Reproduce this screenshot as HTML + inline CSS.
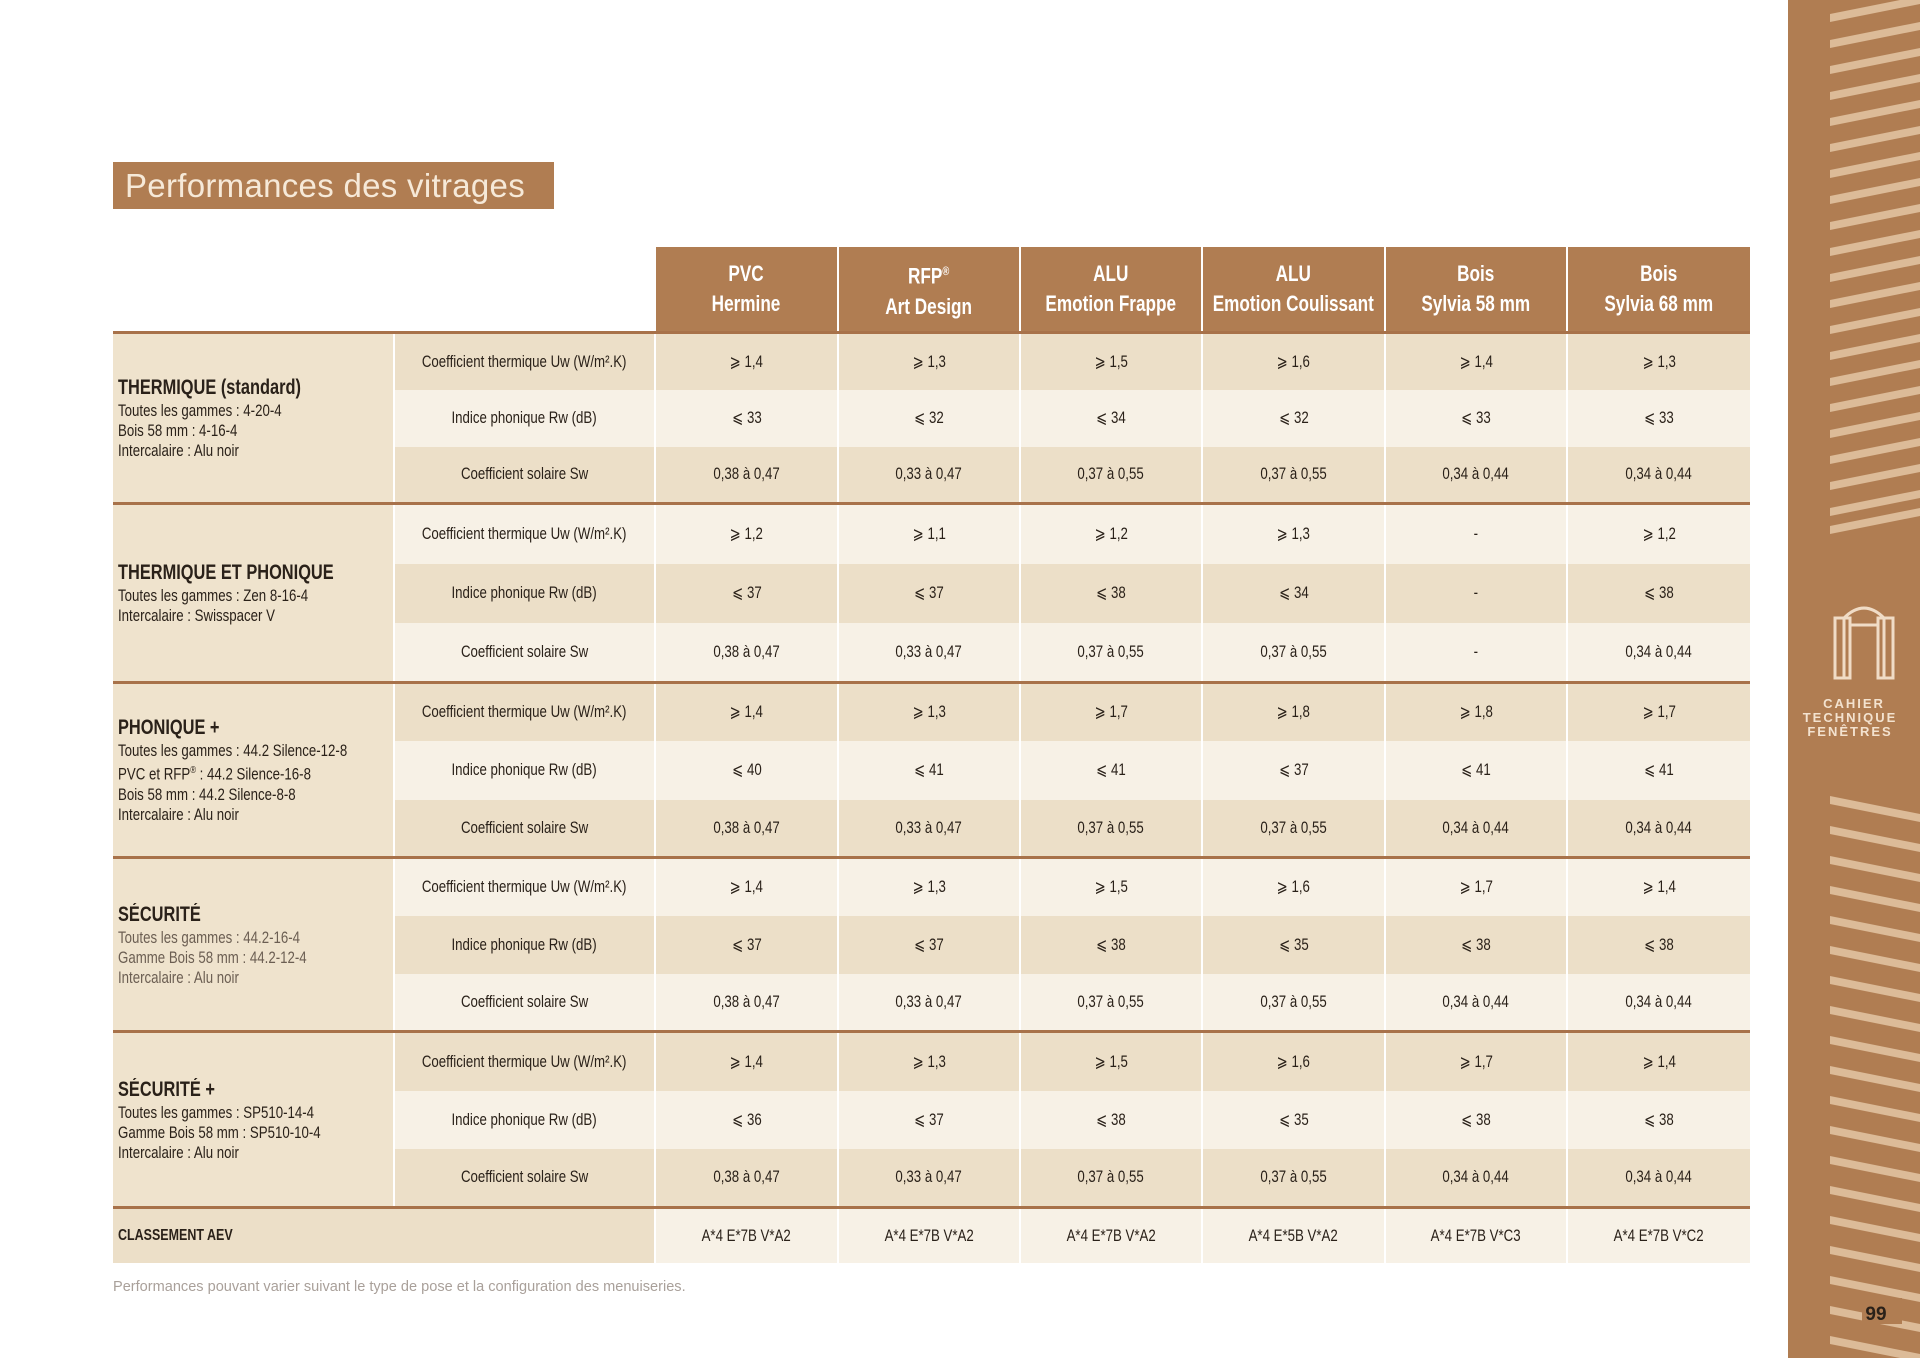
<!DOCTYPE html>
<html><head><meta charset="utf-8"><style>
body{margin:0;width:1920px;height:1358px;background:#fff;position:relative;overflow:hidden;font-family:"Liberation Sans",sans-serif;color:#2a2119}
.title{position:absolute;left:113px;top:162px;width:441px;height:47px;background:#b07d52;color:#f6e9d8;font-family:"Liberation Sans",sans-serif;font-size:33px;line-height:47px;padding-left:12px;box-sizing:border-box;font-weight:300;letter-spacing:0.3px}
table{position:absolute;left:113px;top:247px;width:1637px;border-collapse:collapse;table-layout:fixed}
td{padding:0;text-align:center;font-size:17px;border-left:2px solid #fff;overflow:hidden}
th{background:#b07d52;color:#fff;font-size:22px;font-weight:bold;border-left:2px solid #fff;line-height:30px;height:84px;padding:0;overflow:hidden}
th.e{background:transparent;border:none}
td.g{text-align:left;vertical-align:middle;background:#efe3cd;padding-left:5px;font-size:17px;line-height:20px;border-left:none}
td.g b{font-size:21px;display:block;line-height:26px}
tr.d td{background:#ecdfc8}
tr.l td{background:#f7f1e6}
tr.d td.g,tr.l td.g{background:#efe3cd}
tr.s td{border-top:3px solid #a8724a}
td.lab{font-size:17px}
.c{display:inline-block;transform:scaleX(.78);white-space:nowrap;margin:0 -60px}
.g .c{width:340px;margin:0 -80px 0 0;transform-origin:left center;white-space:normal}
.foot{position:absolute;left:113px;top:1278px;font-size:15px;color:#a9a09a;transform:scaleX(.97);transform-origin:left;white-space:nowrap}
.side{position:absolute;left:1788px;top:0;width:132px;height:1358px;background:#b07d52}
</style></head><body>
<div class="title">Performances des vitrages</div>
<table>
<colgroup><col style="width:281px"><col style="width:261px"><col style="width:183px"><col style="width:182px"><col style="width:182px"><col style="width:183px"><col style="width:182px"><col style="width:183px"></colgroup>
<tr><th class="e"></th><th class="e"></th><th>PVC<br>Hermine</th><th>RFP<sup style="font-size:12px">®</sup><br>Art Design</th><th>ALU<br>Emotion Frappe</th><th>ALU<br>Emotion Coulissant</th><th>Bois<br>Sylvia 58 mm</th><th>Bois<br>Sylvia 68 mm</th></tr>

<tr class="d s" style="height:57px"><td class="g" rowspan="3"><b>THERMIQUE (standard)</b>Toutes les gammes : 4-20-4<br>Bois 58 mm : 4-16-4<br>Intercalaire : Alu noir</td><td class="lab">Coefficient thermique Uw (W/m².K)</td><td>⩾ 1,4</td><td>⩾ 1,3</td><td>⩾ 1,5</td><td>⩾ 1,6</td><td>⩾ 1,4</td><td>⩾ 1,3</td></tr>
<tr class="l" style="height:57px"><td class="lab">Indice phonique Rw (dB)</td><td>⩽ 33</td><td>⩽ 32</td><td>⩽ 34</td><td>⩽ 32</td><td>⩽ 33</td><td>⩽ 33</td></tr>
<tr class="d" style="height:57px"><td class="lab">Coefficient solaire Sw</td><td>0,38 à 0,47</td><td>0,33 à 0,47</td><td>0,37 à 0,55</td><td>0,37 à 0,55</td><td>0,34 à 0,44</td><td>0,34 à 0,44</td></tr>

<tr class="l s" style="height:60px"><td class="g" rowspan="3"><b>THERMIQUE ET PHONIQUE</b>Toutes les gammes : Zen 8-16-4<br>Intercalaire : Swisspacer V</td><td class="lab">Coefficient thermique Uw (W/m².K)</td><td>⩾ 1,2</td><td>⩾ 1,1</td><td>⩾ 1,2</td><td>⩾ 1,3</td><td>-</td><td>⩾ 1,2</td></tr>
<tr class="d" style="height:59px"><td class="lab">Indice phonique Rw (dB)</td><td>⩽ 37</td><td>⩽ 37</td><td>⩽ 38</td><td>⩽ 34</td><td>-</td><td>⩽ 38</td></tr>
<tr class="l" style="height:60px"><td class="lab">Coefficient solaire Sw</td><td>0,38 à 0,47</td><td>0,33 à 0,47</td><td>0,37 à 0,55</td><td>0,37 à 0,55</td><td>-</td><td>0,34 à 0,44</td></tr>

<tr class="d s" style="height:58px"><td class="g" rowspan="3"><b>PHONIQUE +</b>Toutes les gammes : 44.2 Silence-12-8<br>PVC et RFP<sup style="font-size:10px">®</sup> : 44.2 Silence-16-8<br>Bois 58 mm : 44.2 Silence-8-8<br>Intercalaire : Alu noir</td><td class="lab">Coefficient thermique Uw (W/m².K)</td><td>⩾ 1,4</td><td>⩾ 1,3</td><td>⩾ 1,7</td><td>⩾ 1,8</td><td>⩾ 1,8</td><td>⩾ 1,7</td></tr>
<tr class="l" style="height:59px"><td class="lab">Indice phonique Rw (dB)</td><td>⩽ 40</td><td>⩽ 41</td><td>⩽ 41</td><td>⩽ 37</td><td>⩽ 41</td><td>⩽ 41</td></tr>
<tr class="d" style="height:58px"><td class="lab">Coefficient solaire Sw</td><td>0,38 à 0,47</td><td>0,33 à 0,47</td><td>0,37 à 0,55</td><td>0,37 à 0,55</td><td>0,34 à 0,44</td><td>0,34 à 0,44</td></tr>

<tr class="l s" style="height:58px"><td class="g" rowspan="3"><b>SÉCURITÉ</b><span style="color:#6b5e52">Toutes les gammes : 44.2-16-4<br>Gamme Bois 58 mm : 44.2-12-4<br>Intercalaire : Alu noir</span></td><td class="lab">Coefficient thermique Uw (W/m².K)</td><td>⩾ 1,4</td><td>⩾ 1,3</td><td>⩾ 1,5</td><td>⩾ 1,6</td><td>⩾ 1,7</td><td>⩾ 1,4</td></tr>
<tr class="d" style="height:58px"><td class="lab">Indice phonique Rw (dB)</td><td>⩽ 37</td><td>⩽ 37</td><td>⩽ 38</td><td>⩽ 35</td><td>⩽ 38</td><td>⩽ 38</td></tr>
<tr class="l" style="height:58px"><td class="lab">Coefficient solaire Sw</td><td>0,38 à 0,47</td><td>0,33 à 0,47</td><td>0,37 à 0,55</td><td>0,37 à 0,55</td><td>0,34 à 0,44</td><td>0,34 à 0,44</td></tr>

<tr class="d s" style="height:59px"><td class="g" rowspan="3"><b>SÉCURITÉ +</b>Toutes les gammes : SP510-14-4<br>Gamme Bois 58 mm : SP510-10-4<br>Intercalaire : Alu noir</td><td class="lab">Coefficient thermique Uw (W/m².K)</td><td>⩾ 1,4</td><td>⩾ 1,3</td><td>⩾ 1,5</td><td>⩾ 1,6</td><td>⩾ 1,7</td><td>⩾ 1,4</td></tr>
<tr class="l" style="height:58px"><td class="lab">Indice phonique Rw (dB)</td><td>⩽ 36</td><td>⩽ 37</td><td>⩽ 38</td><td>⩽ 35</td><td>⩽ 38</td><td>⩽ 38</td></tr>
<tr class="d" style="height:59px"><td class="lab">Coefficient solaire Sw</td><td>0,38 à 0,47</td><td>0,33 à 0,47</td><td>0,37 à 0,55</td><td>0,37 à 0,55</td><td>0,34 à 0,44</td><td>0,34 à 0,44</td></tr>

<tr class="l s" style="height:55px"><td class="g" colspan="2" style="background:#ecdfc8;font-weight:bold;font-size:16px">CLASSEMENT AEV</td><td>A*4 E*7B V*A2</td><td>A*4 E*7B V*A2</td><td>A*4 E*7B V*A2</td><td>A*4 E*5B V*A2</td><td>A*4 E*7B V*C3</td><td>A*4 E*7B V*C2</td></tr>
</table>
<div class="foot">Performances pouvant varier suivant le type de pose et la configuration des menuiseries.</div>
<div class="side">
<svg width="132" height="1358" style="position:absolute;left:0;top:0">
<g fill="#dcbb98">
<polygon points="42,14 132,-4 132,4 42,22"/>
<polygon points="42,40 132,22 132,30 42,48"/>
<polygon points="42,66 132,48 132,56 42,74"/>
<polygon points="42,92 132,74 132,82 42,100"/>
<polygon points="42,118 132,100 132,108 42,126"/>
<polygon points="42,144 132,126 132,134 42,152"/>
<polygon points="42,170 132,152 132,160 42,178"/>
<polygon points="42,196 132,178 132,186 42,204"/>
<polygon points="42,222 132,204 132,212 42,230"/>
<polygon points="42,248 132,230 132,238 42,256"/>
<polygon points="42,274 132,256 132,264 42,282"/>
<polygon points="42,300 132,282 132,290 42,308"/>
<polygon points="42,326 132,308 132,316 42,334"/>
<polygon points="42,352 132,334 132,342 42,360"/>
<polygon points="42,378 132,360 132,368 42,386"/>
<polygon points="42,404 132,386 132,394 42,412"/>
<polygon points="42,430 132,412 132,420 42,438"/>
<polygon points="42,456 132,438 132,446 42,464"/>
<polygon points="42,482 132,464 132,472 42,490"/>
<polygon points="42,508 132,490 132,498 42,516"/>
<polygon points="42,526 132,508 132,516 42,534"/>
</g>
<g fill="#dcbb98">
<polygon points="42,796 132,814 132,822 42,804"/>
<polygon points="42,826 132,844 132,852 42,834"/>
<polygon points="42,856 132,874 132,882 42,864"/>
<polygon points="42,886 132,904 132,912 42,894"/>
<polygon points="42,916 132,934 132,942 42,924"/>
<polygon points="42,946 132,964 132,972 42,954"/>
<polygon points="42,976 132,994 132,1002 42,984"/>
<polygon points="42,1006 132,1024 132,1032 42,1014"/>
<polygon points="42,1036 132,1054 132,1062 42,1044"/>
<polygon points="42,1066 132,1084 132,1092 42,1074"/>
<polygon points="42,1096 132,1114 132,1122 42,1104"/>
<polygon points="42,1126 132,1144 132,1152 42,1134"/>
<polygon points="42,1156 132,1174 132,1182 42,1164"/>
<polygon points="42,1186 132,1204 132,1212 42,1194"/>
<polygon points="42,1216 132,1234 132,1242 42,1224"/>
<polygon points="42,1246 132,1264 132,1272 42,1254"/>
<polygon points="42,1276 132,1294 132,1302 42,1284"/>
<polygon points="42,1306 132,1324 132,1332 42,1314"/>
<polygon points="42,1336 132,1354 132,1362 42,1344"/>
</g>
<g fill="none" stroke="#f0dcc6" stroke-width="3">
<path d="M56,678 V618 Q76,598 96,618 V678"/>
<rect x="47" y="618" width="15" height="60"/><rect x="90" y="618" width="15" height="60"/>
<path d="M62,625 H90"/>
</g>
<text x="66" y="708" text-anchor="middle" font-family="Liberation Sans" font-weight="bold" font-size="13" fill="#f3e2cf" letter-spacing="2">CAHIER</text>
<text x="62" y="722" text-anchor="middle" font-family="Liberation Sans" font-weight="bold" font-size="13" fill="#f3e2cf" letter-spacing="2">TECHNIQUE</text>
<text x="62" y="736" text-anchor="middle" font-family="Liberation Sans" font-weight="bold" font-size="13" fill="#f3e2cf" letter-spacing="2">FENÊTRES</text>
<rect x="74" y="1298" width="40" height="26" fill="#b07d52"/>
<text x="88" y="1320" text-anchor="middle" font-family="Liberation Sans" font-weight="bold" font-size="19" fill="#2a2119">99</text>
</svg>
</div>
<script>
document.querySelectorAll('td,th').forEach(function(c){if(c.innerHTML.trim())c.innerHTML='<span class="c">'+c.innerHTML+'</span>';});
</script>
</body></html>
